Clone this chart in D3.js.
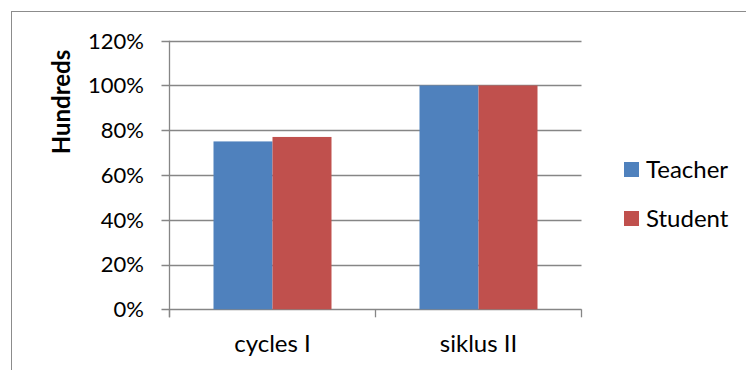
<!DOCTYPE html>
<html>
<head>
<meta charset="utf-8">
<script src="https://cdn.jsdelivr.net/npm/d3@7"></script>
<style>
  body { margin: 0; background: #fff; }
  svg text { font-family: Lato, "Open Sans", sans-serif; fill: #000; }
</style>
</head>
<body>
<div id="chart"></div>
<script>
var categories = ['cycles I', 'siklus II']
var seriesNames = ['Teacher', 'Student']
var teacher = [0.75, 1.00]
var student = [0.77, 1.00]
var yTicks = [0, 0.2, 0.4, 0.6, 0.8, 1.0, 1.2]
var colors = ['#4f81bd', '#c0504d']

var width = 746, height = 370

var svg = d3.select('#chart')
    .append('svg')
    .attr('width', width)
    .attr('height', height)

// outer chart border (only left and top visible)
svg.append('rect')
    .attr('x', 11.5)
    .attr('y', 11.5)
    .attr('width', 800)
    .attr('height', 400)
    .attr('fill', 'none')
    .attr('stroke', '#8c8c8c')
    .attr('stroke-width', 1)

var plotLeft = 169.5, plotRight = 581.5, plotTop = 40.7, plotBottom = 309.3

var x = d3.scaleBand()
    .domain(categories)
    .range([plotLeft, plotRight])

var y = d3.scaleLinear()
    .domain([0, 1.2])
    .range([plotBottom, plotTop])

var g = svg.append('g')

// gridlines
g.selectAll('line.grid')
    .data(yTicks)
    .enter()
    .append('line')
    .attr('class', 'grid')
    .attr('x1', plotLeft - 8)
    .attr('x2', plotRight)
    .attr('y1', function(d) { return Math.round(y(d)) + 0.5 })
    .attr('y2', function(d) { return Math.round(y(d)) + 0.5 })
    .attr('stroke', '#868686')
    .attr('stroke-width', 1.3)

// y axis line
g.append('line')
    .attr('x1', plotLeft).attr('x2', plotLeft)
    .attr('y1', plotTop).attr('y2', plotBottom + 8)
    .attr('stroke', '#868686')
    .attr('stroke-width', 1.3)

// x category ticks
var xTickPos = [plotLeft].concat(categories.map(function(c) { return x(c) + x.bandwidth() }))
g.selectAll('line.xtick')
    .data(xTickPos)
    .enter()
    .append('line')
    .attr('x1', function(d) { return d }).attr('x2', function(d) { return d })
    .attr('y1', plotBottom).attr('y2', plotBottom + 8)
    .attr('stroke', '#868686')
    .attr('stroke-width', 1.3)

// bars
var barW = x.bandwidth() * 59 / 206
var inner = d3.scaleBand().domain(seriesNames).range([0, barW * 2])
var rows = categories.map(function(c, i) {
    return [{ cat: c, key: 'Teacher', v: teacher[i] }, { cat: c, key: 'Student', v: student[i] }]
})

g.selectAll('g.grp')
    .data(rows)
    .enter()
    .append('g')
    .attr('transform', function(d) {
        return 'translate(' + (x(d[0].cat) + x.bandwidth() / 2 - barW) + ',0)'
    })
    .selectAll('rect')
    .data(function(d) { return d })
    .enter()
    .append('rect')
    .attr('x', function(d) { return inner(d.key) })
    .attr('y', function(d) { return y(d.v) })
    .attr('width', inner.bandwidth())
    .attr('height', function(d) { return plotBottom - y(d.v) })
    .attr('fill', function(d) { return colors[seriesNames.indexOf(d.key)] })

// y tick labels
g.selectAll('text.ylab')
    .data(yTicks)
    .enter()
    .append('text')
    .attr('x', 144)
    .attr('y', function(d) { return y(d) })
    .attr('dy', '0.36em')
    .attr('text-anchor', 'end')
    .style('font-size', '22px')
    .text(function(d) { return d3.format('.0%')(d) })

// x labels
g.selectAll('text.xlab')
    .data(categories)
    .enter()
    .append('text')
    .attr('x', function(d) { return x(d) + x.bandwidth() / 2 })
    .attr('y', 352)
    .attr('text-anchor', 'middle')
    .style('font-size', '24px')
    .text(function(d) { return d })

// axis title
svg.append('text')
    .attr('transform', 'translate(70,102) rotate(-90)')
    .attr('text-anchor', 'middle')
    .style('font-size', '24px')
    .style('font-weight', 'bold')
    .text('Hundreds')

// legend
var legend = svg.append('g')
    .selectAll('g')
    .data(seriesNames)
    .enter()
    .append('g')
    .attr('transform', function(d, i) { return 'translate(624,' + (162 + i * 49) + ')' })

legend.append('rect')
    .attr('width', 15)
    .attr('height', 15)
    .attr('fill', function(d, i) { return colors[i] })

legend.append('text')
    .attr('x', 22)
    .attr('y', 7.5)
    .attr('dy', '0.36em')
    .style('font-size', '24px')
    .text(function(d) { return d })
</script>
</body>
</html>
